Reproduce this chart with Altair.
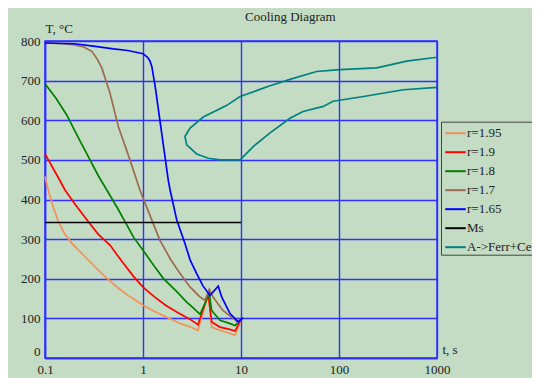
import altair as alt
import pandas as pd

# ---- data ----
names = ["r=1.95", "r=1.9", "r=1.8", "r=1.7", "r=1.65", "Ms", "A->Ferr+Cem"]
colors = ["#f59058", "#ff0000", "#008000", "#9c6a50", "#0000ff", "#000000", "#008080"]

t_195 = [0.1, 0.108, 0.12, 0.137, 0.16, 0.19, 0.22, 0.28, 0.35, 0.43, 0.55, 0.7, 0.85, 1.0, 1.3, 1.75, 2.4, 3.0, 3.64, 4.64, 5.02, 6.1, 7.5, 8.7, 9.8]
T_195 = [458, 424, 385, 344, 312, 288, 272, 246, 222, 201, 178, 158, 145, 133, 118, 103, 87, 79, 70, 162, 78, 70, 63, 57, 90]

t_19 = [0.1, 0.13, 0.16, 0.2, 0.277, 0.35, 0.46, 0.6, 0.8, 1.0, 1.3, 1.7, 2.21, 3.0, 3.64, 4.64, 5.02, 6.1, 7.5, 8.7, 9.8]
T_19 = [515, 465, 424, 390, 344, 312, 285, 246, 206, 179, 155, 133, 116, 98, 84, 162, 91, 78, 73, 68, 93]

t_18 = [0.1, 0.13, 0.166, 0.22, 0.288, 0.35, 0.427, 0.55, 0.655, 0.8, 1.0, 1.3, 1.61, 2.2, 2.79, 3.3, 3.82, 4.75, 5.02, 6.1, 7.5, 8.7, 9.8]
T_18 = [692, 655, 614, 555, 500, 460, 424, 378, 344, 305, 272, 232, 201, 168, 141, 125, 110, 162, 120, 95, 88, 82, 95]

t_17 = [0.1, 0.15, 0.194, 0.25, 0.3, 0.34, 0.38, 0.46, 0.56, 0.736, 0.93, 1.23, 1.49, 1.9, 2.39, 3.0, 3.82, 4.3, 4.75, 5.18, 6.55, 8.0, 9.38, 9.8]
T_17 = [795, 793, 791, 785, 774, 755, 732, 669, 584, 500, 424, 348, 297, 250, 213, 180, 154, 146, 173, 154, 120, 103, 90, 97]

t_165 = [0.1, 0.2, 0.311, 0.5, 0.7, 1.0, 1.12, 1.18, 1.23, 1.33, 1.55, 1.81, 1.89, 2.21, 2.68, 3.03, 3.53, 4.09, 4.83, 5.86, 6.35, 7.72, 9.38, 10.55]
T_165 = [795, 793, 787, 780, 776, 768, 758, 749, 736, 686, 568, 449, 424, 348, 289, 247, 213, 182, 158, 181, 154, 112, 91, 102]

t_ms = [0.1, 10]
T_ms = [342, 342]

t_afc = [1000, 490, 243, 102, 59, 31.6, 19.8, 9.8, 7.1, 4.12, 3.02, 2.68, 2.79, 3.53, 4.64, 6.1, 9.8, 13.4, 19.8, 31.6, 43, 69, 87, 178, 455, 1000]
T_afc = [759, 749, 732, 728, 723, 703, 687, 660, 637, 608, 580, 559, 538, 515, 504, 500, 500, 534, 568, 605, 622, 635, 648, 660, 677, 683]

x_ticks = [0.1, 1, 10, 100, 1000]
y_ticks = [0, 100, 200, 300, 400, 500, 600, 700, 800]

series = [
    ("r=1.95", t_195, T_195),
    ("r=1.9", t_19, T_19),
    ("r=1.8", t_18, T_18),
    ("r=1.7", t_17, T_17),
    ("r=1.65", t_165, T_165),
    ("Ms", t_ms, T_ms),
    ("A->Ferr+Cem", t_afc, T_afc),
]
rows = []
for name, ts, Ts in series:
    for i, (a, b) in enumerate(zip(ts, Ts)):
        rows.append({"series": name, "t": a, "T": b, "i": i})
df = pd.DataFrame(rows)

BG = "#c3dcc3"
GRID = "#2f2fff"
FONT = "Liberation Serif"
TXT = "#222222"

chart = alt.Chart(df).mark_line(strokeWidth=1.7).encode(
    x=alt.X("t:Q",
            scale=alt.Scale(type="log", domain=[0.1, 1000], nice=False),
            axis=alt.Axis(values=x_ticks, format="~g", title="t, s",
                          titleX=397, titleY=-4.5, titleAlign="left",
                          titleBaseline="alphabetic", titleAngle=0,
                          titleFont=FONT, titleFontSize=13, titleFontWeight="normal",
                          titleColor=TXT,
                          labelFont=FONT, labelFontSize=13, labelColor=TXT,
                          labelPadding=5, labelBaseline="top")),
    y=alt.Y("T:Q",
            scale=alt.Scale(domain=[0, 800], nice=False),
            axis=alt.Axis(values=y_ticks, format="d", title="T, °C",
                          titleX=0, titleY=-8.5, titleAlign="left",
                          titleBaseline="alphabetic", titleAngle=0,
                          titleFont=FONT, titleFontSize=13, titleFontWeight="normal",
                          titleColor=TXT,
                          labelFont=FONT, labelFontSize=13, labelColor=TXT,
                          labelPadding=5,
                          labelBaseline=alt.expr("datum.value == 0 ? 'bottom' : 'middle'"))),
    color=alt.Color("series:N",
                    scale=alt.Scale(domain=names, range=colors),
                    sort=names,
                    legend=alt.Legend(orient="none", legendX=396, legendY=80.7,
                                      title=None, symbolType="stroke",
                                      symbolSize=420, symbolStrokeWidth=2,
                                      symbolOffset=3, labelFont=FONT,
                                      labelFontSize=13, labelColor=TXT,
                                      labelOffset=0, padding=0, rowPadding=0,
                                      strokeColor="#444444", fillColor=BG)),
    order="i:Q",
).properties(
    width=392, height=317,
    autosize=alt.AutoSizeParams(type="none"),
    padding={"left": 37, "top": 33, "right": 95, "bottom": 20},
    title=alt.TitleParams("Cooling Diagram", anchor="start", frame="group",
                          dx=200, dy=1, offset=0, font=FONT, fontSize=13,
                          fontWeight="normal", color=TXT),
).configure(
    background=BG,
).configure_view(
    stroke=GRID, strokeWidth=1.5,
).configure_axis(
    domainColor=GRID, domainWidth=1.5,
    gridColor=GRID, gridWidth=1.4, gridOpacity=1,
    ticks=False, tickSize=0,
    labelOverlap=False, labelFlush=False,
)

chart.save("out.html", embed_options={"renderer": "svg", "actions": False})
